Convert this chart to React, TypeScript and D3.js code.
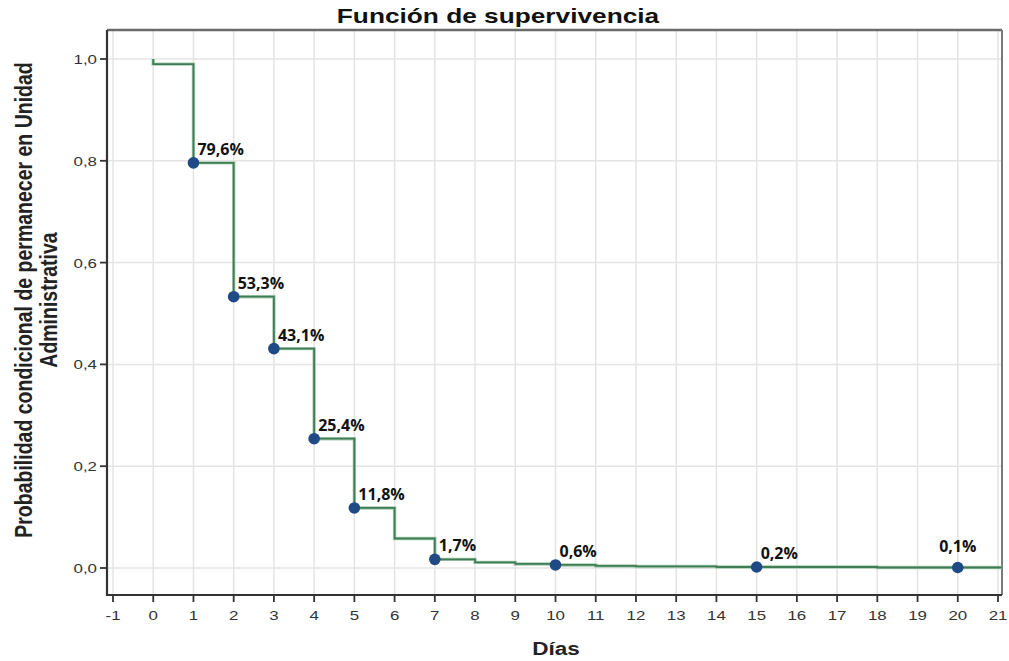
import React from "react";
import * as d3 from "d3";

// Kaplan–Meier style survival curve: probability of remaining in the unit by day
const stepDays = [0, 0, 1, 2, 3, 4, 5, 6, 7, 8, 9, 10, 11, 12, 13, 14, 15, 16, 17, 18, 19, 20, 21];
const stepSurvival = [
  1.0, 0.99, 0.796, 0.533, 0.431, 0.254, 0.118, 0.058, 0.017, 0.011, 0.008, 0.006, 0.004, 0.003,
  0.003, 0.002, 0.002, 0.002, 0.002, 0.001, 0.001, 0.001, 0.001,
];

// Highlighted points with their percentage labels
const markDays = [1, 2, 3, 4, 5, 7, 10, 15, 20];
const markValues = [0.796, 0.533, 0.431, 0.254, 0.118, 0.017, 0.006, 0.002, 0.001];

const xTicks = d3.range(-1, 22);
const yTicks = [0, 0.2, 0.4, 0.6, 0.8, 1.0];

const title = "Función de supervivencia";
const xTitle = "Días";
const yTitleLines = ["Probabilidad condicional de permanecer en Unidad", "Administrativa"];

const W = 1009;
const H = 661;
const frame = { left: 107, right: 1002, top: 30, bottom: 595 };
const stretch = 1.25;

const fmtComma = (v: number, digits: number) => v.toFixed(digits).replace(".", ",");

export default function App() {
  const x = d3.scaleLinear().domain([-1, 21]).range([113, 998]);
  const y = d3.scaleLinear().domain([0, 1]).range([568, 59]);

  const endX = x.invert(frame.right);
  const pts: [number, number][] = stepDays.map((d, i) => [d, stepSurvival[i]]);
  pts.push([endX, stepSurvival[stepSurvival.length - 1]]);

  const line = d3
    .line<[number, number]>()
    .x((d) => x(d[0]))
    .y((d) => y(d[1]))
    .curve(d3.curveStepAfter);

  const axisFont = "Liberation Sans, Arial, sans-serif";

  return (
    <svg
      width={W}
      height={H}
      style={{ position: "absolute", left: 0, top: 0, background: "#fff" }}
    >
      <rect x={0} y={0} width={W} height={H} fill="#fff" />

      {/* grid */}
      <g stroke="#e4e4e4" strokeWidth={1.5}>
        {xTicks.map((t) => (
          <line key={"gx" + t} x1={x(t)} x2={x(t)} y1={frame.top} y2={frame.bottom} />
        ))}
        {yTicks.map((t) => (
          <line key={"gy" + t} x1={frame.left} x2={frame.right} y1={y(t)} y2={y(t)} />
        ))}
      </g>

      {/* frame */}
      <line x1={frame.left} x2={frame.right} y1={frame.top} y2={frame.top} stroke="#6a6a6a" strokeWidth={2.5} />
      <line x1={frame.right} x2={frame.right} y1={frame.top} y2={frame.bottom} stroke="#7a7a7a" strokeWidth={2} />
      <line x1={frame.left} x2={frame.left} y1={frame.top} y2={frame.bottom + 1} stroke="#333" strokeWidth={2.2} />
      <line x1={frame.left - 1} x2={frame.right} y1={frame.bottom} y2={frame.bottom} stroke="#333" strokeWidth={2.2} />

      {/* y ticks */}
      {yTicks.map((t) => (
        <g key={"yt" + t}>
          <line x1={frame.left - 7} x2={frame.left} y1={y(t)} y2={y(t)} stroke="#333" strokeWidth={1.8} />
          <g transform={`translate(${frame.left - 10},${y(t) + 5}) scale(${stretch},1)`}>
            <text textAnchor="end" fontFamily={axisFont} fontSize={13.5} fill="#333">
              {fmtComma(t, 1)}
            </text>
          </g>
        </g>
      ))}

      {/* x ticks */}
      {xTicks.map((t) => (
        <g key={"xt" + t}>
          <line x1={x(t)} x2={x(t)} y1={frame.bottom} y2={frame.bottom + 7} stroke="#333" strokeWidth={1.8} />
          <g transform={`translate(${x(t)},620) scale(${stretch},1)`}>
            <text textAnchor="middle" fontFamily={axisFont} fontSize={13.5} fill="#333">
              {String(t)}
            </text>
          </g>
        </g>
      ))}

      {/* survival step line */}
      <path d={line(pts) || ""} fill="none" stroke="#a9cdb4" strokeWidth={3.4} />
      <path d={line(pts) || ""} fill="none" stroke="#3f7d55" strokeWidth={1.8} />

      {/* highlighted points */}
      {markDays.map((d, i) => {
        const v = markValues[i];
        const cx = x(d);
        const cy = y(v);
        const nearEdge = cx > frame.right - 60;
        return (
          <g key={"m" + d}>
            <circle cx={cx} cy={cy} r={5.8} fill="#1f4a86" />
            <text
              x={nearEdge ? cx : cx + 4}
              y={nearEdge ? cy - 15 : cy - 8}
              textAnchor={nearEdge ? "middle" : "start"}
              fontFamily="Open Sans, sans-serif"
              fontWeight={700}
              fontSize={16}
              fill="#111"
            >
              {fmtComma(v * 100, 1) + "%"}
            </text>
          </g>
        );
      })}

      {/* titles */}
      <g transform={`translate(498,23) scale(${stretch},1)`}>
        <text textAnchor="middle" fontFamily={axisFont} fontWeight={700} fontSize={21} fill="#111">
          {title}
        </text>
      </g>
      <g transform={`translate(556,655) scale(${stretch},1)`}>
        <text textAnchor="middle" fontFamily={axisFont} fontWeight={700} fontSize={18} fill="#222">
          {xTitle}
        </text>
      </g>
      {yTitleLines.map((ln, i) => (
        <g key={"yl" + i} transform={`translate(${32 + i * 25},300) scale(${stretch},1) rotate(-90)`}>
          <text textAnchor="middle" fontFamily={axisFont} fontWeight={700} fontSize={19.5} fill="#222">
            {ln}
          </text>
        </g>
      ))}
    </svg>
  );
}
